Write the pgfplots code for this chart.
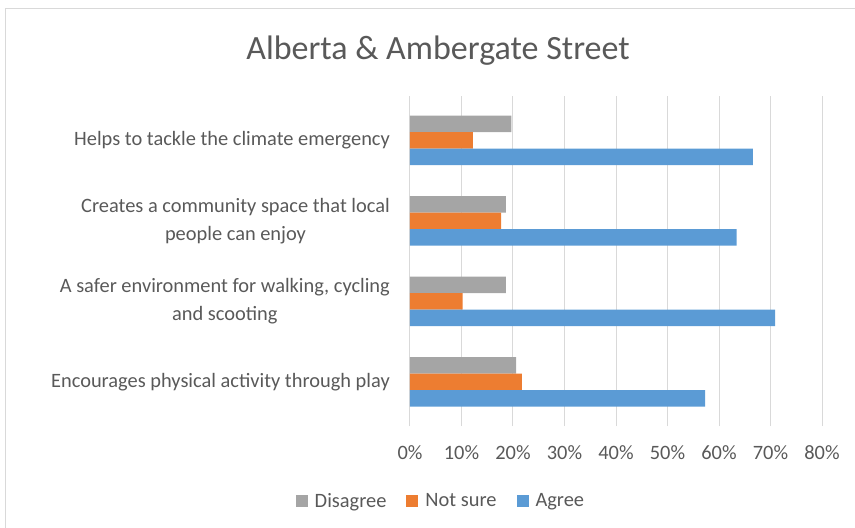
\documentclass[border=0pt]{standalone}
\usepackage{fontspec}
\setmainfont{Carlito}
\usepackage{pgfplots}
\pgfplotsset{compat=1.18}
\definecolor{cDis}{HTML}{A5A5A5}
\definecolor{cNot}{HTML}{ED7D31}
\definecolor{cAgr}{HTML}{5B9BD5}
\definecolor{txt}{HTML}{595959}
\definecolor{gridc}{HTML}{D9D9D9}
\begin{document}
\begin{tikzpicture}[x=1pt,y=1pt]
\useasboundingbox (0,0) rectangle (855,528);
\draw[gridc, line width=1pt] (5,0) -- (5,519) -- (855,519);
\node[txt, font=\fontsize{34}{40}\selectfont] at (438,477) {Alberta \& Ambergate Street};
\begin{axis}[
  at={(410pt,106pt)}, anchor=south west,
  scale only axis, width=412pt, height=322pt,
  xbar=0pt, bar width=16.5pt,
  xmin=0, xmax=80, ymin=-0.5, ymax=3.5,
  y dir=reverse,
  ytick={0,1,2,3},
  yticklabels={Helps to tackle the climate emergency,
    {Creates a community space that local\\people can enjoy},
    {A safer environment for walking, cycling\\and scooting},
    Encourages physical activity through play},
  xtick={0,10,...,80},
  xticklabels={0\%,10\%,20\%,30\%,40\%,50\%,60\%,70\%,80\%},
  xmajorgrids, grid style={gridc, line width=1pt},
  axis line style={draw=none},
  ytick style={draw=none},
  xtick style={gridc, line width=1pt},
  tick align=outside, major tick length=4pt,
  xticklabel style={font=\fontsize{20.4}{28}\selectfont, text=txt, yshift=-16pt},
  yticklabel style={font=\fontsize{20.4}{28}\selectfont, text=txt, align=center, inner sep=0pt, xshift=-16pt},
  legend style={at={(0.075,-0.245)}, anchor=center, legend columns=3, draw=none,
    font=\fontsize{20.4}{28}\selectfont, text=txt,
    /tikz/every odd column/.append style={column sep=5pt},
    /tikz/every even column/.append style={column sep=18pt}},
  legend image code/.code={\fill[#1] (0pt,-6pt) rectangle (12pt,6pt);},
  every axis plot/.append style={draw=none},
]
\addplot[fill=cDis, bar shift=16.5pt] coordinates {(19.7,0) (18.6,1) (18.6,2) (20.6,3)};
\addlegendentry{Disagree}
\addplot[fill=cNot, bar shift=0pt] coordinates {(12.2,0) (17.7,1) (10.2,2) (21.7,3)};
\addlegendentry{Not sure}
\addplot[fill=cAgr, bar shift=-16.5pt] coordinates {(66.6,0) (63.4,1) (70.9,2) (57.3,3)};
\addlegendentry{Agree}
\end{axis}
\end{tikzpicture}
\end{document}
